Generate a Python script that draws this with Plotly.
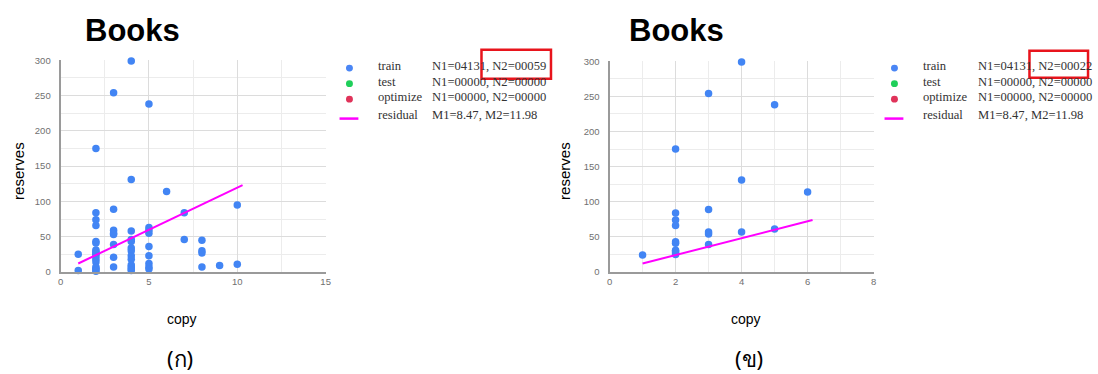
import plotly.graph_objects as go

# (ก) all train points
copy_a = (
    [1, 1]
    + [2] * 17
    + [3] * 8
    + [4] * 13
    + [5] * 9
    + [6]
    + [7, 7]
    + [8] * 4
    + [9]
    + [10, 10]
)
reserves_a = (
    [25, 2]
    + [175, 84, 74, 66, 43, 41, 31, 29, 27, 25, 22, 18, 14, 7, 5, 3, 1]
    + [254, 89, 59, 55, 53, 39, 21, 7]
    + [299, 131, 58, 46, 43, 34, 30, 23, 18, 10, 7, 4, 2]
    + [238, 63, 59, 55, 36, 23, 12, 7, 4]
    + [114]
    + [84, 46]
    + [45, 30, 27, 7]
    + [9]
    + [95, 11]
)
resid_x_a = [1, 10.3]
resid_y_a = [12, 123]

# (ข) subset
copy_b = [1] + [2] * 10 + [3] * 5 + [4] * 3 + [5] * 2 + [6]
reserves_b = (
    [24]
    + [175, 84, 74, 66, 43, 41, 31, 29, 27, 25]
    + [254, 89, 57, 54, 39]
    + [299, 131, 57]
    + [238, 61]
    + [114]
)
resid_x_b = [1, 6.15]
resid_y_b = [12, 74]

legend_names = ["train", "test", "optimize", "residual"]
legend_a = ["N1=04131, N2=00059", "N1=00000, N2=00000", "N1=00000, N2=00000", "M1=8.47, M2=11.98"]
legend_b = ["N1=04131, N2=00022", "N1=00000, N2=00000", "N1=00000, N2=00000", "M1=8.47, M2=11.98"]
legend_colors = ["#4a86f5", "#1fcf5a", "#e0335a", "#ff00ff"]

W, H = 1098, 374
BLUE = "#4285f4"
MAGENTA = "#ff00ff"


def px(x):
    return x / W


def py(y):
    return 1 - y / H


fig = go.Figure()
for xs, ys, lx, ly, ax in [
    (copy_a, reserves_a, resid_x_a, resid_y_a, ""),
    (copy_b, reserves_b, resid_x_b, resid_y_b, "2"),
]:
    fig.add_trace(go.Scatter(
        x=xs, y=ys, mode="markers", xaxis="x" + ax, yaxis="y" + ax,
        marker={"color": BLUE, "size": 7.5}, cliponaxis=False, showlegend=False,
    ))
    fig.add_trace(go.Scatter(
        x=lx, y=ly, mode="lines", xaxis="x" + ax, yaxis="y" + ax,
        line={"color": MAGENTA, "width": 2}, showlegend=False,
    ))

axis_common = dict(
    showgrid=True, gridcolor="#dcdcdc", gridwidth=1, zeroline=False,
    showline=True, linecolor="#9a9a9a", linewidth=2, ticks="",
    tickfont={"family": "Liberation Sans, Arial", "size": 9.5, "color": "#707070"},
    fixedrange=True,
)
fig.update_layout(
    width=W, height=H,
    margin={"l": 0, "r": 0, "t": 0, "b": 0},
    paper_bgcolor="white", plot_bgcolor="white",
    showlegend=False,
    xaxis=dict(axis_common, domain=[px(58), px(325)], range=[0, 15], dtick=5,
               minor={"dtick": 2.5, "showgrid": True, "gridcolor": "#ececec"}, anchor="y"),
    yaxis=dict(axis_common, domain=[py(274), py(56)], range=[0, 300], dtick=50,
               ticklabelstandoff=6,
               minor={"dtick": 25, "showgrid": True, "gridcolor": "#ececec"}, anchor="x"),
    xaxis2=dict(axis_common, domain=[px(611), px(877)], range=[0, 8], dtick=2,
                minor={"dtick": 1, "showgrid": True, "gridcolor": "#ececec"}, anchor="y2"),
    yaxis2=dict(axis_common, domain=[py(274), py(57)], range=[0, 300], dtick=50,
                ticklabelstandoff=6,
                minor={"dtick": 25, "showgrid": True, "gridcolor": "#ececec"}, anchor="x2"),
)

annotations = []
shapes = []


def text(x, y, s, size, family="Liberation Sans, Arial", bold=False, xanchor="center", angle=0, color="black"):
    annotations.append(dict(
        x=px(x), y=py(y), xref="paper", yref="paper", text=f"<b>{s}</b>" if bold else s,
        showarrow=False, xanchor=xanchor, yanchor="middle", textangle=angle,
        font={"family": family, "size": size, "color": color},
    ))


# titles, axis labels, captions
for cx, tx, ylab_x, cap, capx in [(130, 180, 15, "(ก)", 178), (678, 748, 565, "(ข)", 751)]:
    text(cx, 25, "Books", 31, bold=True)
    text(tx, 322, "copy", 14)
    text(ylab_x, 170, "reserves", 15, angle=-90)
    text(capx, 363, cap, 22, family="Noto Sans, DejaVu Sans")

# legends
for mx, nx, vx, values, box in [
    (349, 376, 430, legend_a, (482, 45, 552, 75)),
    (898, 925, 980, legend_b, (1034, 46, 1093, 74)),
]:
    rows = [64, 80, 96, 115]
    for i, (name, val, col) in enumerate(zip(legend_names, values, legend_colors)):
        ry = rows[i]
        if name == "residual":
            shapes.append(dict(type="line", xref="paper", yref="paper",
                               x0=px(mx - 10), x1=px(mx + 9), y0=py(ry + 1), y1=py(ry + 1),
                               line={"color": col, "width": 2.5}))
        else:
            shapes.append(dict(type="circle", xref="paper", yref="paper",
                               x0=px(mx - 3.5), x1=px(mx + 3.5), y0=py(ry - 3.5), y1=py(ry + 3.5),
                               fillcolor=col, line={"width": 0}))
        ty = ry - 2 if i < 3 else ry - 3
        text(nx, ty, name, 12.6, family="Liberation Serif, Times New Roman", xanchor="left", color="#333")
        text(vx, ty, val, 12.6, family="Liberation Serif, Times New Roman", xanchor="left", color="#333")
    x0, y0, x1, y1 = box
    shapes.append(dict(type="rect", xref="paper", yref="paper",
                       x0=px(x0), x1=px(x1), y0=py(y1), y1=py(y0),
                       line={"color": "#e8141c", "width": 2.5}))

fig.update_layout(annotations=annotations, shapes=shapes)
fig.write_html(
    "out.html",
    config={"displayModeBar": False},
    post_script="document.body.style.margin='0';document.body.style.overflow='hidden';",
)
